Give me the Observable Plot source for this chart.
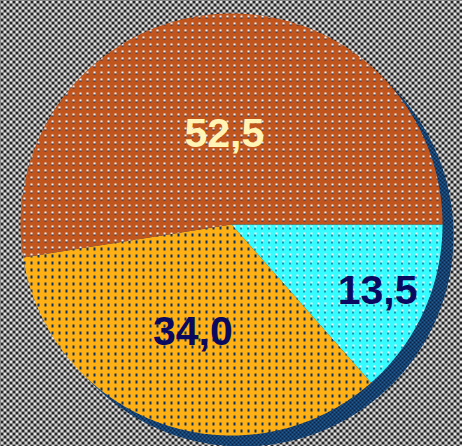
<!DOCTYPE html>
<html>
<head>
<meta charset="utf-8">
<script src="https://cdn.jsdelivr.net/npm/d3@7"></script>
<script src="https://cdn.jsdelivr.net/npm/@observablehq/plot@0.6"></script>
<style>
  html, body { margin: 0; padding: 0; background: #888; }
  #chart svg { display: block; }
</style>
</head>
<body>
<div id="chart"></div>
<script>
// ---- data ----
const sliceLabels = ["13,5", "34,0", "52,5"];
const sliceValues = [13.5, 34.0, 52.5];

// ---- styles / layout ----
const patternIds = ["pCyan", "pOrange", "pBrown"];
const labelColors = ["#0a0a60", "#0a0a60", "#fff4b4"];
const labelRadius = [0.76, 0.54, 0.43];

const W = 462, H = 446, CX = 231, CY = 224, R = 211;

const arcs = d3.pie().sort(null).value(d => d)
  .startAngle(Math.PI / 2).endAngle(Math.PI / 2 + 2 * Math.PI)(sliceValues);

function polygon(a0, a1, withCenter) {
  const pts = withCenter ? [{x: 0, y: 0}] : [];
  const n = Math.max(8, Math.ceil((a1 - a0) / (Math.PI / 360)));
  for (let k = 0; k <= n; k++) {
    const a = a0 + (a1 - a0) * k / n;
    pts.push({x: Math.sin(a), y: Math.cos(a)});
  }
  if (withCenter) pts.push({x: 0, y: 0});
  return pts;
}

const slicePolys = arcs.map(a => polygon(a.startAngle, a.endAngle, true));
const shadowPoly = polygon(0, 2 * Math.PI, false);

const labelData = arcs.map((a, i) => {
  const m = (a.startAngle + a.endAngle) / 2;
  return {label: sliceLabels[i], x: labelRadius[i] * Math.sin(m), y: labelRadius[i] * Math.cos(m), color: labelColors[i]};
});

const plot = Plot.plot({
  width: W,
  height: H,
  margin: 0,
  x: {domain: [(0 - CX) / R, (W - CX) / R], axis: null},
  y: {domain: [(CY - H) / R, CY / R], axis: null},
  style: {background: "transparent"},
  marks: [
    Plot.frame({fill: "url(#pBg)", stroke: "none"}),
    Plot.line(shadowPoly, {x: "x", y: "y", fill: "url(#pShadow)", stroke: "none", dx: 11, dy: 11, curve: "linear"}),
    ...slicePolys.map((p, i) => Plot.line(p, {x: "x", y: "y", fill: `url(#${patternIds[i]})`, stroke: "none", curve: "linear"})),
    Plot.text(labelData, {
      x: "x", y: "y", text: "label", fill: "color",
      fontSize: 41, fontWeight: "bold", fontFamily: "Liberation Sans, Arial, sans-serif",
      textAnchor: "middle"
    })
  ]
});

// pattern definitions (textures)
const ns = "http://www.w3.org/2000/svg";
const defs = document.createElementNS(ns, "defs");
defs.innerHTML = `
  <pattern id="pBg" width="6" height="6" patternUnits="userSpaceOnUse">
    <rect width="6" height="6" fill="#e6e6e6"/>
    <rect x="0" y="0" width="3" height="3" fill="#262626"/>
    <rect x="3" y="3" width="3" height="3" fill="#262626"/>
    <rect x="1" y="4" width="1" height="1" fill="#9a9a9a"/>
  </pattern>
  <pattern id="pShadow" width="4" height="4" patternUnits="userSpaceOnUse">
    <rect width="4" height="4" fill="#225e96"/>
    <rect x="0" y="0" width="2" height="2" fill="#0b2448"/>
    <rect x="2" y="2" width="2" height="2" fill="#0b2448"/>
  </pattern>
  <pattern id="pBrown" width="7" height="7" patternUnits="userSpaceOnUse">
    <rect width="7" height="7" fill="#c0561e"/>
    <rect x="2" y="1" width="2" height="2" fill="#f2f2f2"/>
    <rect x="2" y="3" width="2" height="1" fill="#0b2a5a"/>
  </pattern>
  <pattern id="pOrange" width="7" height="7" patternUnits="userSpaceOnUse">
    <rect width="7" height="7" fill="#ffb014"/>
    <rect x="2" y="2" width="2" height="3" fill="#0c3264"/>
  </pattern>
  <pattern id="pCyan" width="7" height="7" patternUnits="userSpaceOnUse">
    <rect width="7" height="7" fill="#36fcff"/>
    <rect x="2" y="1" width="2" height="2" fill="#f4f4f4"/>
    <rect x="2" y="3" width="1" height="2" fill="#0b2a5a"/>
  </pattern>`;
plot.insertBefore(defs, plot.firstChild);

document.getElementById("chart").appendChild(plot);
</script>
</body>
</html>
